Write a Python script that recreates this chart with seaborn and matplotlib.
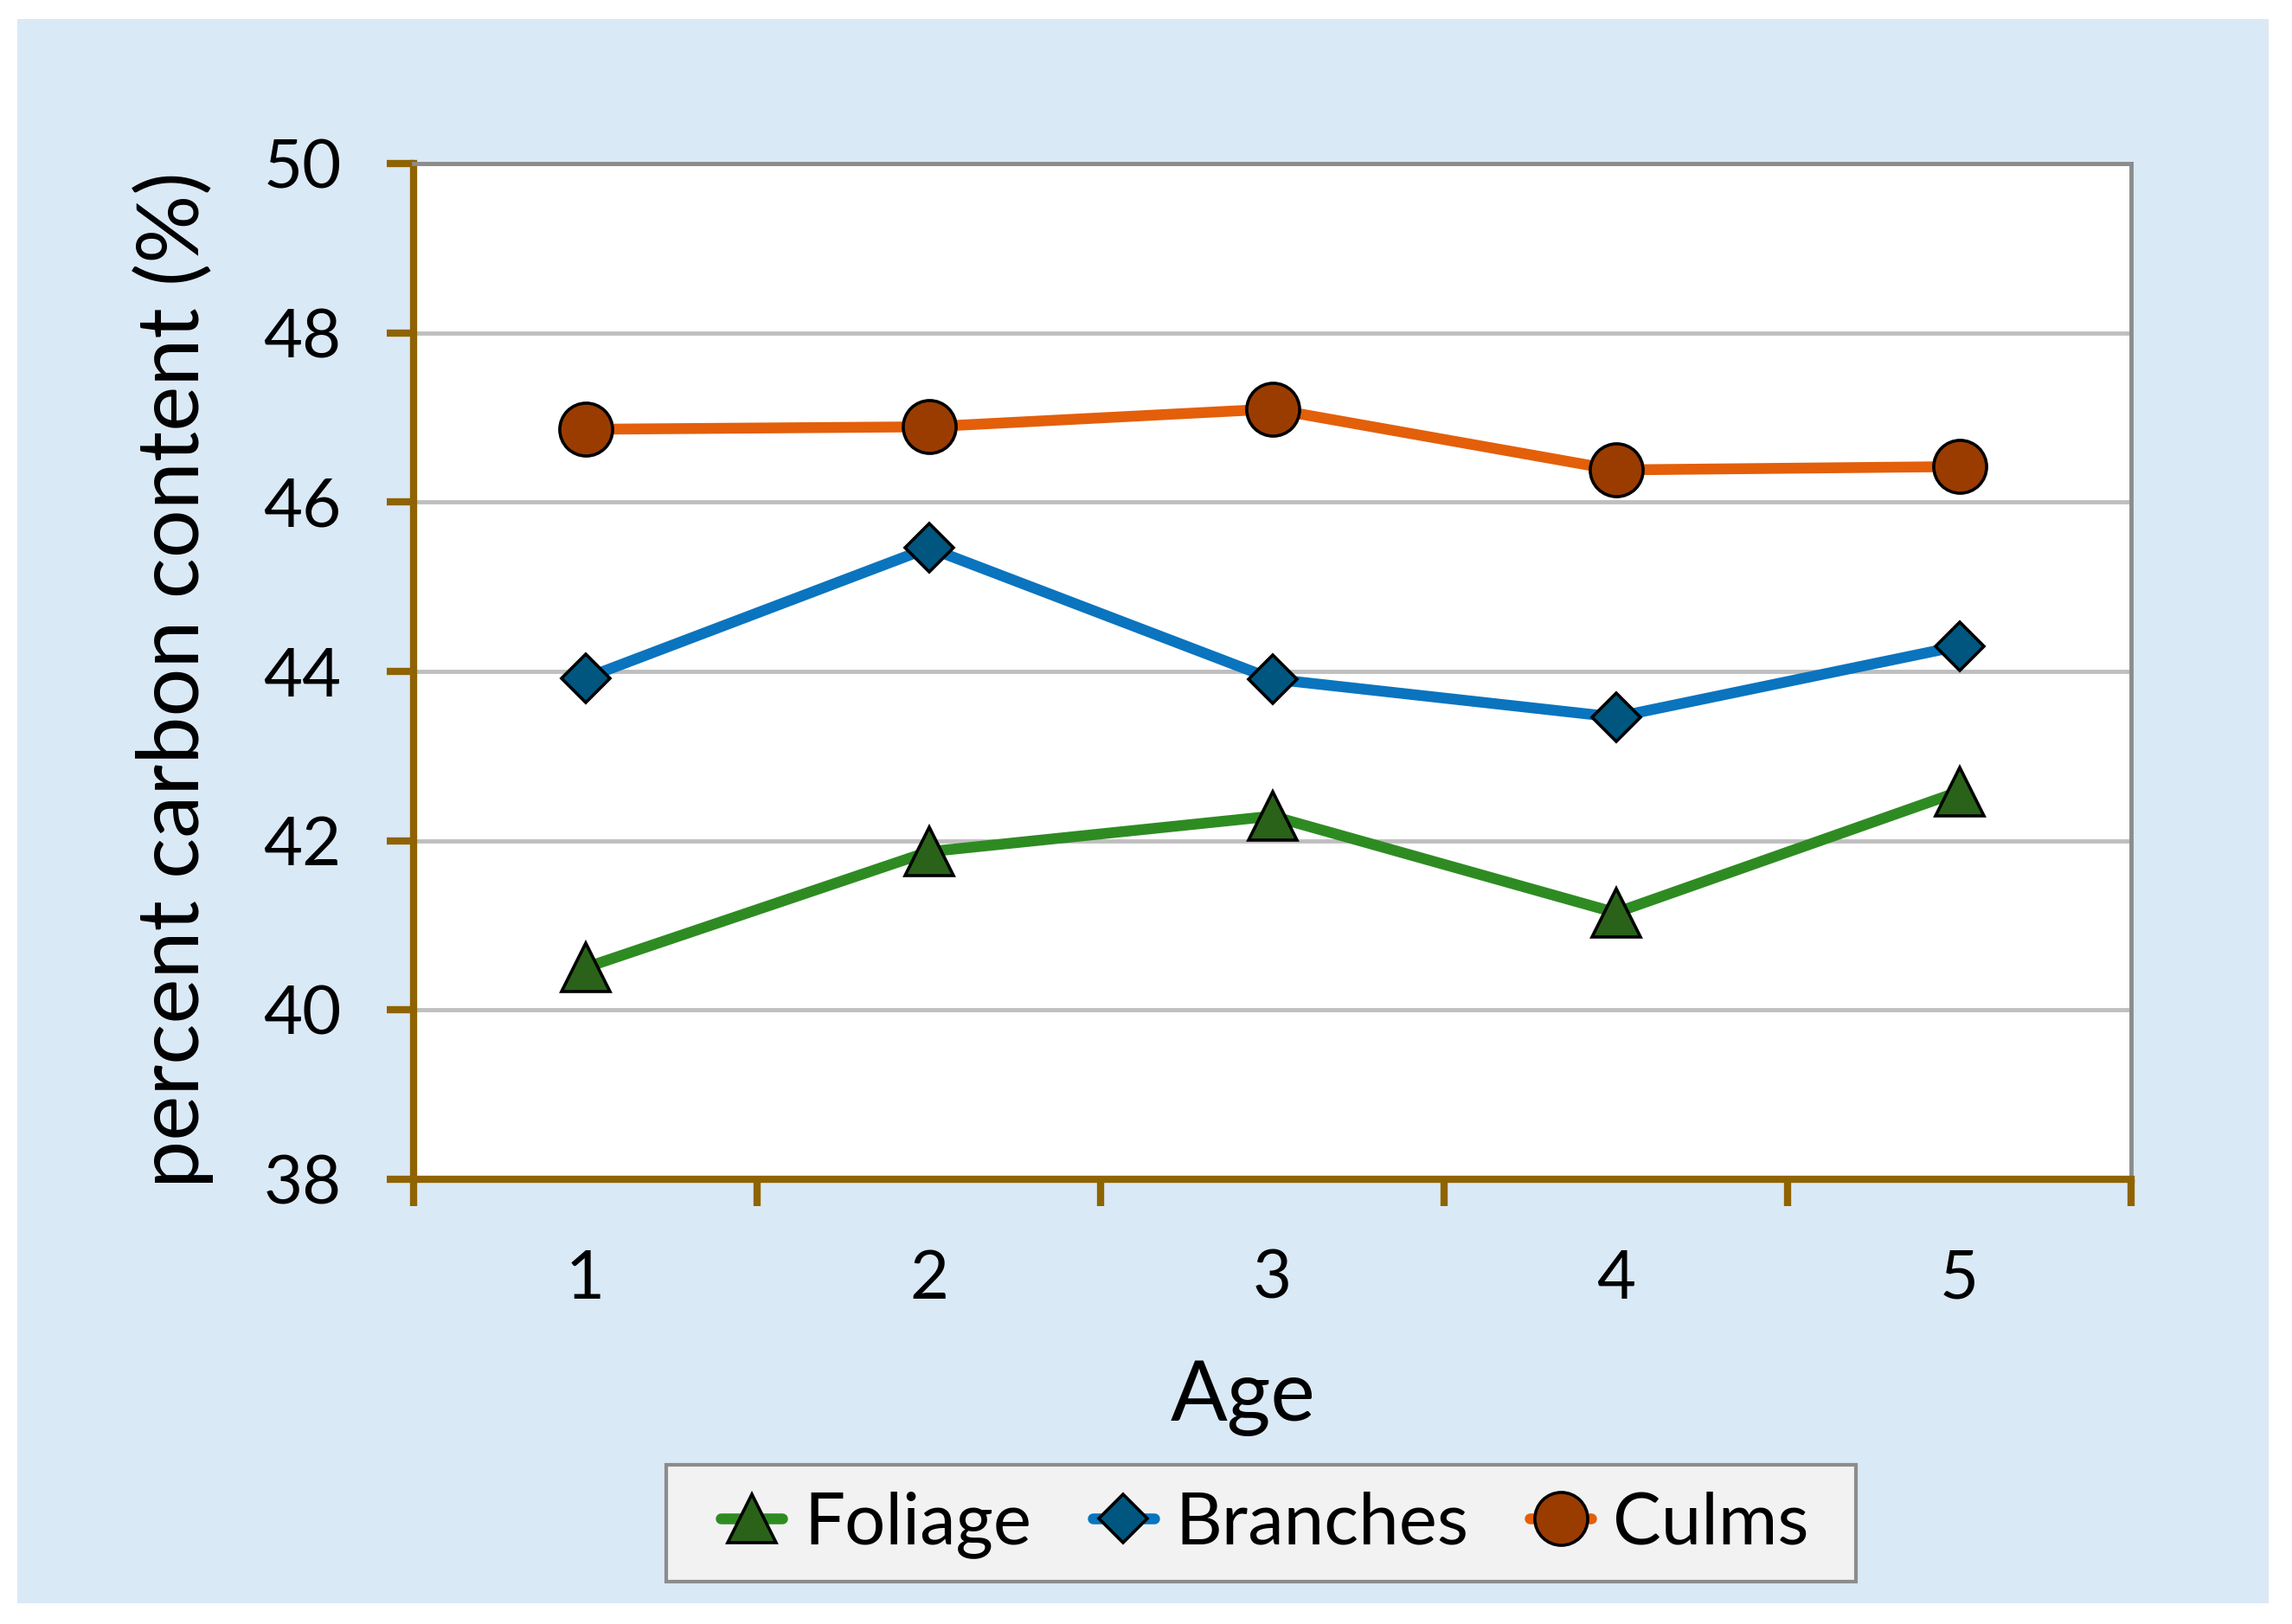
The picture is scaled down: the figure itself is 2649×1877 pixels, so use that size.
import pandas as pd
import matplotlib.pyplot as plt
import matplotlib.patches as mpatches
import seaborn as sns

# values
ages = [1, 2, 3, 4, 5]
foliage = [40.50, 41.87, 42.29, 41.15, 42.58]
branches = [43.92, 45.46, 43.91, 43.46, 44.30]
culms = [46.86, 46.89, 47.10, 46.38, 46.42]
y_ticks = [38, 40, 42, 44, 46, 48, 50]

sns.set_style('white')
plt.rcParams['font.family'] = ['Lato', 'DejaVu Sans']
plt.rcParams['text.color'] = 'black'
plt.rcParams['axes.labelcolor'] = 'black'
plt.rcParams['xtick.labelcolor'] = 'black'
plt.rcParams['ytick.labelcolor'] = 'black'

W, H = 2649, 1877
spine_col = '#8F6300'
series = [
    ('Foliage', foliage, '#2E8B22', '#2A6219', '^', 41),
    ('Branches', branches, '#0A74BE', '#00567F', 'D', 29),
    ('Culms', culms, '#E35F0A', '#9A3C00', 'o', 44),
]

fig = plt.figure(figsize=(W / 100, H / 100), dpi=100, facecolor='white')
# light blue chart area
fig.patches.append(mpatches.Rectangle((20 / W, 1 - 1853 / H), 2602 / W, 1831 / H,
                                      transform=fig.transFigure, facecolor='#DAE9F6',
                                      edgecolor='none', zorder=-10))
# legend box
fig.patches.append(mpatches.Rectangle((770 / W, 1 - 1828 / H), 1375 / W, 135 / H,
                                      transform=fig.transFigure, facecolor='#F2F2F2',
                                      edgecolor='#8C8C8C', linewidth=3, zorder=-5))

ax = fig.add_axes([478 / W, 1 - 1363 / H, 1985 / W, 1174 / H])
ax.set_zorder(1)
ax.set_facecolor('white')

for name, vals, line_col, face_col, mk, ms in series:
    df = pd.DataFrame({'Age': ages, 'Carbon': vals})
    sns.lineplot(data=df, x='Age', y='Carbon', ax=ax, color=line_col, linewidth=9,
                 marker=mk, markersize=ms, markerfacecolor=face_col,
                 markeredgecolor='black', markeredgewidth=2.6, label=name)

ax.set_xlim(0.5, 5.5)
ax.set_ylim(38, 50)
ax.set_yticks(y_ticks)
ax.set_xticks(ages)
ax.set_xticks([a - 0.5 for a in ages] + [5.5], minor=True)

ax.set_axisbelow(True)
ax.grid(axis='y', color='#BFBFBF', linewidth=3.5)
ax.grid(axis='x', visible=False)

for side in ['left', 'bottom']:
    ax.spines[side].set_color(spine_col)
    ax.spines[side].set_linewidth(6)
for side in ['top', 'right']:
    ax.spines[side].set_color('#8C8C8C')
    ax.spines[side].set_linewidth(3.5)

ax.tick_params(axis='y', which='major', direction='out', length=22, width=6,
               color=spine_col, labelsize=56, pad=38, left=True)
ax.tick_params(axis='x', which='major', length=0, labelsize=56, pad=58, bottom=True)
ax.tick_params(axis='x', which='minor', direction='out', length=22, width=6,
               color=spine_col, bottom=True)

ax.set_xlabel('Age', fontsize=70)
ax.xaxis.label.set_va('baseline')
ax.xaxis.set_label_coords(0.483, -0.2377)
ax.set_ylabel('percent carbon content (%)', fontsize=71)
ax.yaxis.label.set_va('center')
ax.yaxis.set_label_coords(-0.14, 0.4915)

handles, labels = ax.get_legend_handles_labels()
ax.get_legend().remove()
leg = fig.legend(handles, labels, loc='center', bbox_to_anchor=(1462 / W, 1 - 1762 / H),
                 ncol=3, fontsize=60, frameon=False, handlelength=0.85,
                 handletextpad=0.3, columnspacing=0.85, borderpad=0.2, borderaxespad=0)

fig.savefig('out.png', dpi=100, facecolor='white')
